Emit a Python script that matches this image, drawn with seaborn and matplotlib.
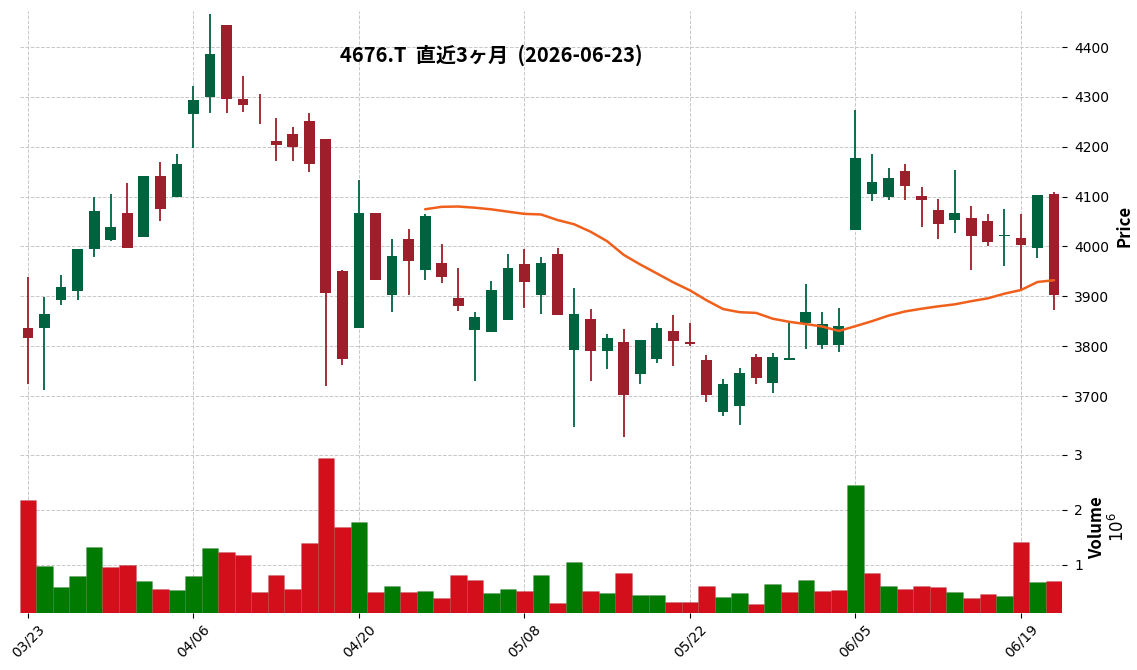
import numpy as np
import pandas as pd
import seaborn as sns
import matplotlib
matplotlib.use("Agg")
import matplotlib.pyplot as plt

# ---- data ----
opens = [3837, 3837, 3892, 3910, 3994, 4012, 4068, 4020, 4142, 4100,
         4265, 4299, 4445, 4296, 4262, 4212, 4226, 4252, 4216, 3951,
         3836, 4068, 3902, 4014, 3952, 3967, 3897, 3832, 3829, 3852,
         3965, 3902, 3985, 3792, 3855, 3790, 3808, 3745, 3775, 3831,
         3808, 3773, 3667, 3679, 3779, 3727, 3772, 3847, 3802, 3802,
         4034, 4106, 4100, 4152, 4102, 4074, 4054, 4058, 4052, 4021,
         4016, 3996, 4106]
highs = [3939, 3899, 3943, 3995, 4100, 4105, 4128, 4142, 4169, 4185,
         4322, 4466, 4445, 4343, 4305, 4258, 4240, 4268, 4216, 3953,
         4133, 4068, 4015, 4035, 4066, 4005, 3957, 3868, 3931, 3985,
         3995, 3979, 3997, 3917, 3874, 3824, 3834, 3813, 3846, 3863,
         3847, 3782, 3734, 3756, 3785, 3786, 3848, 3925, 3868, 3876,
         4274, 4185, 4157, 4165, 4119, 4096, 4153, 4081, 4066, 4075,
         4065, 4104, 4110]
lows = [3725, 3713, 3882, 3892, 3979, 4010, 3996, 4020, 4051, 4100,
        4198, 4268, 4268, 4270, 4246, 4171, 4171, 4149, 3721, 3762,
        3836, 3932, 3868, 3902, 3933, 3927, 3870, 3731, 3829, 3852,
        3876, 3864, 3862, 3638, 3731, 3754, 3618, 3724, 3767, 3760,
        3801, 3688, 3659, 3641, 3724, 3706, 3772, 3795, 3795, 3789,
        4034, 4091, 4093, 4093, 4039, 4015, 4027, 3953, 4000, 3961,
        3914, 3976, 3872]
closes = [3816, 3865, 3919, 3995, 4072, 4040, 3996, 4142, 4076, 4166,
          4294, 4387, 4295, 4283, 4261, 4203, 4199, 4165, 3906, 3774,
          4068, 3932, 3981, 3970, 4062, 3938, 3880, 3859, 3913, 3957,
          3928, 3967, 3862, 3865, 3790, 3817, 3703, 3812, 3837, 3810,
          3804, 3703, 3725, 3747, 3737, 3778, 3776, 3869, 3845, 3841,
          4178, 4130, 4138, 4122, 4094, 4046, 4068, 4022, 4008, 4022,
          4002, 4104, 3902]
volumes = [2170000, 970000, 590000, 790000, 1330000, 950000, 990000, 700000, 550000, 530000,
           790000, 1300000, 1240000, 1170000, 500000, 820000, 550000, 1390000, 2950000, 1680000,
           1770000, 500000, 620000, 500000, 520000, 390000, 810000, 720000, 480000, 550000,
           520000, 820000, 300000, 1040000, 520000, 480000, 840000, 440000, 440000, 320000,
           320000, 620000, 410000, 480000, 280000, 640000, 500000, 720000, 520000, 530000,
           2460000, 840000, 620000, 550000, 610000, 590000, 500000, 390000, 460000, 420000,
           1410000, 680000, 700000]
jp_holidays = ["2026-04-29", "2026-05-04", "2026-05-05", "2026-05-06"]
title = "4676.T  直近3ヶ月  (2026-06-23)"

dates = pd.bdate_range("2026-03-23", "2026-06-23", freq="C", holidays=jp_holidays)
df = pd.DataFrame({"Open": opens, "High": highs, "Low": lows,
                   "Close": closes, "Volume": volumes}, index=dates)
df["x"] = np.arange(len(df))
df["MA25"] = df["Close"].rolling(25).mean()

# ---- style ----
sns.set_theme(style="whitegrid", rc={"grid.linestyle": "--", "grid.color": "#c8c8c8",
                                     "grid.linewidth": 0.7, "axes.edgecolor": "white",
                                     "text.color": "black", "axes.labelcolor": "black",
                                     "xtick.color": "black", "ytick.color": "black"})
plt.rcParams["font.family"] = ["Noto Sans CJK JP", "DejaVu Sans"]

up_c, down_c = "#006340", "#9c1f2b"
vup_c, vdown_c = "#007a00", "#d40f1c"

fig = plt.figure(figsize=(11.37, 6.70), dpi=100)
ax = fig.add_axes([0.0173, 0.342, 0.917, 0.642])
axv = fig.add_axes([0.0173, 0.085, 0.917, 0.256], sharex=ax)

# candles
is_up = df["Close"] >= df["Open"]
ccol = np.where(is_up, up_c, down_c)
ax.vlines(df["x"], df["Low"], df["High"], colors=ccol, linewidth=1.3, zorder=2)
body_bot = np.minimum(df["Open"], df["Close"])
body_h = np.maximum((df["Close"] - df["Open"]).abs(), 1.5)
ax.bar(df["x"], body_h, bottom=body_bot, width=0.65, color=ccol,
       edgecolor="none", zorder=3)

# moving average
sns.lineplot(x=df["x"], y=df["MA25"], ax=ax, color="#f0601c", linewidth=1.8, zorder=4)

# volume, coloured by close vs previous close
prev = df["Close"].shift(1)
vup = (df["Close"] >= prev)
vup.iloc[0] = closes[0] >= opens[0]
vcol = np.where(vup, vup_c, vdown_c)
axv.bar(df["x"], df["Volume"] / 1e6, width=1.0, color=vcol,
        edgecolor="#00000022", linewidth=0.4, zorder=2)

ax.set_xlim(-0.5, len(df) - 0.5)
ax.set_ylim(3610, 4473)
axv.set_ylim(0.118, 3.245)

for a in (ax, axv):
    a.yaxis.tick_right()
    a.yaxis.set_label_position("right")
    a.set_facecolor("white")
    for s in a.spines.values():
        s.set_visible(False)
    a.tick_params(axis="y", which="both", right=True, length=3.5, width=0.8,
                  color="black", pad=5)

price_ticks = [3700, 3800, 3900, 4000, 4100, 4200, 4300, 4400]
ax.set_yticks(price_ticks)
ax.set_yticklabels([str(v) for v in price_ticks], family="DejaVu Sans", fontsize=10)
axv.set_yticks([1, 2, 3])
axv.set_yticklabels(["1", "2", "3"], family="DejaVu Sans", fontsize=10)

ticks = df["x"].values[::10]
axv.set_xticks(ticks)
axv.set_xticklabels(df.index[::10].strftime("%m/%d"), rotation=45, ha="center",
                    family="DejaVu Sans", fontsize=10)
axv.tick_params(axis="x", bottom=True, length=3.5, width=0.8, color="black", pad=3)
ax.tick_params(axis="x", labelbottom=False, bottom=False)
ax.set_xlabel("")
axv.set_xlabel("")

ax.set_ylabel("Price", fontsize=12, fontweight="bold")
ax.yaxis.set_label_coords(1.051, 0.5)
axv.set_ylabel("Volume\n$10^{6}$", fontsize=12, fontweight="bold", linespacing=1.1)
axv.yaxis.set_label_coords(1.025, 0.5)

fig.text(491 / 1137, 1 - 55 / 670, title, ha="center", va="center",
         fontsize=14.5, fontweight="bold", family=["Noto Sans CJK JP", "DejaVu Sans"])

fig.savefig("out.png", dpi=100, facecolor="white")
